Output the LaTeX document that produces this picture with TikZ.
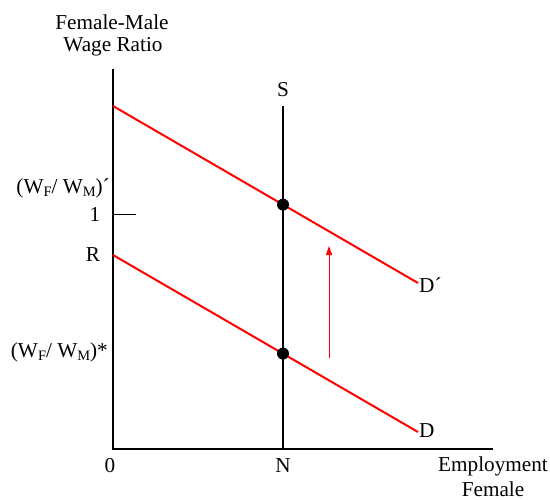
\documentclass[tikz,border=0pt]{standalone}
\usepackage{fontspec}
\setmainfont{Liberation Serif}
\usetikzlibrary{arrows.meta}
\newcommand{\sbs}[1]{\raisebox{-0.35ex}{\fontsize{14.5}{14.5}\selectfont #1}}
\begin{document}
\begin{tikzpicture}[x=1bp,y=-1bp,
  lbl/.style={inner sep=0pt,font=\fontsize{21.3}{24}\selectfont},
  axis/.style={line width=2.2bp,black},
  dem/.style={line width=2bp,red},
  eq/.style={circle,fill=black,inner sep=0pt,minimum size=12bp}]
\useasboundingbox (0,0) rectangle (550,500);
% axes
\coordinate (ytop) at (113,69);
\coordinate (orig) at (113,449);
\coordinate (xend) at (493,449);
\draw[axis] (ytop) -- (orig) -- (xend);
% supply
\coordinate (stop) at (283,106);
\coordinate (sbot) at (283,449);
\draw[axis,line width=2bp] (stop) -- (sbot);
% demand curves
\coordinate (d1a) at (113,106);
\coordinate (d1b) at (418,283);
\coordinate (d0a) at (113,255);
\coordinate (d0b) at (418,432);
\draw[dem] (d1a) -- (d1b);
\draw[dem] (d0a) -- (d0b);
% tick
\coordinate (ta) at (113,214);
\coordinate (tb) at (136,214);
\draw[line width=1bp] (ta) -- (tb);
% equilibria
\node[eq] (e1) at (283,204.6) {};
\node[eq] (e0) at (283,353.6) {};
% shift arrow
\coordinate (aa) at (329,358);
\coordinate (ab) at (329,246);
\draw[red,line width=1bp,-{Triangle[length=9bp,width=6bp]}] (aa) -- (ab);
% labels
\node[lbl] (t1) at (112,22) {Female-Male};
\node[lbl] (t2) at (113,47) {Wage Ratio};
\node[lbl] (sl) at (283,90) {S};
\node[lbl,anchor=east] (wp) at (110,188) {(W\sbs{F}/ W\sbs{M})´};
\node[lbl] (one) at (95,214) {1};
\node[lbl] (rl) at (93,255) {R};
\node[lbl,anchor=east] (ws) at (108,352) {(W\sbs{F}/ W\sbs{M})*};
\node[lbl] (zero) at (110,466) {0};
\node[lbl] (nl) at (283,466) {N};
\node[lbl,anchor=west] (dl) at (419,431) {D};
\node[lbl,anchor=west] (dpl) at (419,285) {D´};
\node[lbl,anchor=west] (em) at (438,466) {Employment};
\node[lbl] (fe) at (493,489) {Female};
\end{tikzpicture}
\end{document}
